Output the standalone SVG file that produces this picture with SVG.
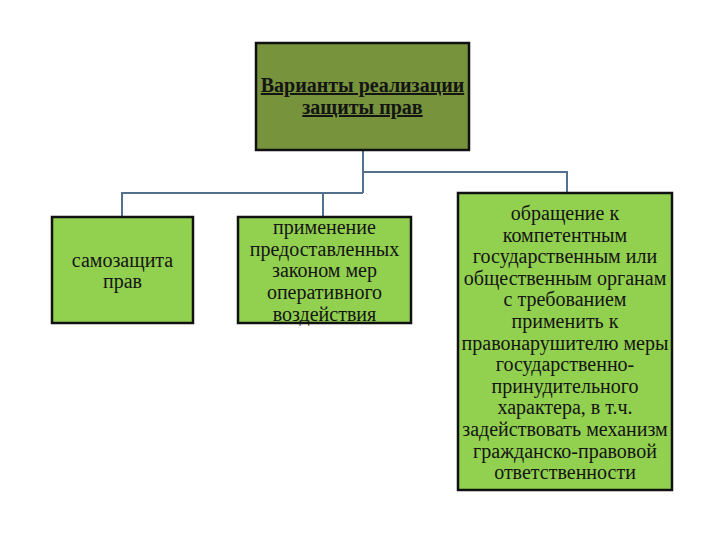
<svg xmlns="http://www.w3.org/2000/svg" width="720" height="540" viewBox="0 0 720 540">
<style>
.box{stroke:#111;stroke-width:2.5}
.top{fill:#77933C}
.grn{fill:#92D050}
.conn{fill:none;stroke:#53708F;stroke-width:2}
text{font-family:"Liberation Serif","Times New Roman",serif;font-size:20px;fill:#141414;text-anchor:middle}
.title{font-weight:bold;text-decoration:underline}
</style>
<rect width="720" height="540" fill="#fff"/>
<g id="connectors">
<path class="conn" d="M363 150V193M122 217V193H363M323 193V217M363 172H567V193"/>
</g>
<g id="root">
<rect class="box top" x="256" y="43" width="213" height="107"/>
<text class="title" x="362.5" y="92">Варианты реализации</text>
<text class="title" x="362.5" y="114">защиты прав</text>
</g>
<g id="n1">
<rect class="box grn" x="52" y="217" width="141" height="106"/>
<text x="122.5" y="267">самозащита</text>
<text x="122.5" y="288">прав</text>
</g>
<g id="n2">
<rect class="box grn" x="238" y="217" width="173" height="106"/>
<text x="324.5" y="234">применение</text>
<text x="324.5" y="256">предоставленных</text>
<text x="324.5" y="277">законом мер</text>
<text x="324.5" y="299">оперативного</text>
<text x="324.5" y="321">воздействия</text>
</g>
<g id="n3">
<rect class="box grn" x="458" y="193" width="214" height="297"/>
<text x="565" y="220">обращение к</text>
<text x="565" y="241.6">компетентным</text>
<text x="565" y="263.2">государственным или</text>
<text x="565" y="284.8">общественным органам</text>
<text x="565" y="306.4">с требованием</text>
<text x="565" y="328">применить к</text>
<text x="565" y="349.6">правонарушителю меры</text>
<text x="565" y="371.2">государственно-</text>
<text x="565" y="392.8">принудительного</text>
<text x="565" y="414.4">характера, в т.ч.</text>
<text x="565" y="436">задействовать механизм</text>
<text x="565" y="457.6">гражданско-правовой</text>
<text x="565" y="479.2">ответственности</text>
</g>
</svg>
